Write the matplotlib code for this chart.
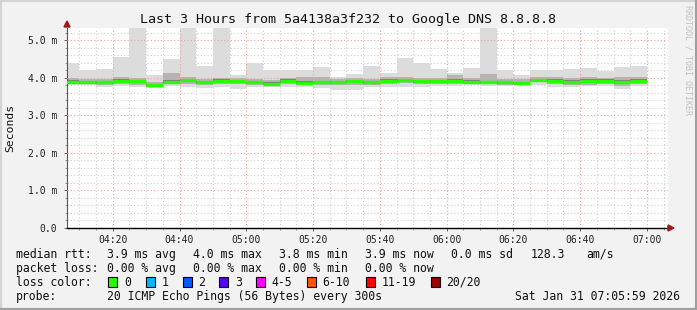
import numpy as np
import matplotlib
matplotlib.use("Agg")
import matplotlib.pyplot as plt
from matplotlib.patches import Rectangle, Polygon
from matplotlib.ticker import FixedLocator, FuncFormatter

plt.rcParams['font.family'] = ['DejaVu Sans Mono', 'DejaVu Sans']

# 5 minute bins, 04:05 .. 06:55 (values in ms)
bin_times = ["%02d:%02d" % divmod(m, 60) for m in range(245, 420, 5)]

smoke_max = [4.39, 4.21, 4.24, 4.57, 5.60, 4.07, 4.51, 5.60, 4.33, 5.60, 4.09, 4.41,
             4.20, 4.20, 4.21, 4.30, 4.02, 4.11, 4.33, 4.14, 4.52, 4.41, 4.24, 4.14,
             4.27, 5.60, 4.22, 4.08, 4.20, 4.22, 4.25, 4.27, 4.19, 4.29, 4.32]
smoke_hi = [4.00, 3.96, 3.96, 4.02, 4.00, 3.90, 4.12, 4.03, 3.97, 4.01, 3.99, 3.98,
            3.95, 4.00, 4.02, 4.03, 3.97, 3.99, 3.98, 4.02, 4.03, 3.99, 4.00, 4.08,
            4.01, 4.10, 3.98, 3.96, 4.03, 4.02, 3.99, 4.02, 4.01, 4.03, 4.02]
dark_hi = [3.94, 3.92, 3.91, 3.97, 3.95, 3.84, 3.95, 3.98, 3.92, 3.96, 3.95, 3.93,
           3.90, 3.96, 3.92, 3.93, 3.92, 3.94, 3.93, 3.97, 3.98, 3.94, 3.95, 3.97,
           3.94, 3.93, 3.93, 3.90, 3.98, 3.96, 3.94, 3.96, 3.96, 3.95, 3.96]
median = [3.90, 3.88, 3.88, 3.93, 3.91, 3.80, 3.89, 3.94, 3.88, 3.92, 3.92, 3.89,
          3.84, 3.92, 3.86, 3.88, 3.88, 3.91, 3.89, 3.93, 3.95, 3.91, 3.91, 3.91,
          3.90, 3.88, 3.89, 3.86, 3.95, 3.93, 3.90, 3.93, 3.92, 3.90, 3.93]
dark_lo = [3.86, 3.85, 3.84, 3.88, 3.86, 3.78, 3.86, 3.89, 3.84, 3.88, 3.88, 3.85,
           3.81, 3.87, 3.83, 3.84, 3.84, 3.86, 3.85, 3.88, 3.90, 3.87, 3.87, 3.87,
           3.86, 3.85, 3.85, 3.83, 3.91, 3.88, 3.85, 3.86, 3.87, 3.84, 3.88]
smoke_lo = [3.84, 3.84, 3.80, 3.85, 3.82, 3.76, 3.83, 3.85, 3.81, 3.84, 3.84, 3.82,
            3.80, 3.83, 3.81, 3.80, 3.80, 3.82, 3.82, 3.84, 3.86, 3.84, 3.84, 3.85,
            3.84, 3.83, 3.82, 3.82, 3.88, 3.84, 3.82, 3.80, 3.84, 3.78, 3.84]
smoke_min = [3.80, 3.82, 3.75, 3.78, 3.75, 3.72, 3.78, 3.75, 3.74, 3.75, 3.70, 3.75,
             3.76, 3.75, 3.75, 3.72, 3.68, 3.68, 3.75, 3.75, 3.75, 3.75, 3.78, 3.78,
             3.80, 3.78, 3.78, 3.80, 3.81, 3.75, 3.75, 3.78, 3.78, 3.70, 3.78]
loss = [0] * 35

loss_labels = ["0", "1", "2", "3", "4-5", "6-10", "11-19", "20/20"]
loss_colors = ["#26ff00", "#00b8ff", "#0059ff", "#5e00ff", "#ff00ff", "#ff5500", "#ff0000", "#a00000"]

x_ticks = ["04:20", "04:40", "05:00", "05:20", "05:40", "06:00", "06:20", "06:40", "07:00"]
y_ticks = [0, 1, 2, 3, 4, 5]


def to_min(s):
    h, m = s.split(":")
    return int(h) * 60 + int(m)


xs = np.array([to_min(t) for t in bin_times])
bg = "#f2f2f2"
W, H = 697, 310

fig = plt.figure(figsize=(W / 100, H / 100), dpi=100, facecolor=bg)
ax = fig.add_axes([67 / W, 1 - 228 / H, 601 / W, 200 / H])
ax.set_facecolor("white")

# smoke layers
def band(lo, hi, color):
    ax.bar(xs, np.array(hi) - np.array(lo), bottom=lo, width=5, align="edge",
           color=color, linewidth=0, zorder=2)

band(smoke_min, smoke_max, "#dcdcdc")
band(smoke_lo, smoke_hi, "#b4b4b4")
band(dark_lo, dark_hi, "#7a7a7a")

# median, coloured by loss
for x0, m, l in zip(xs, median, loss):
    ax.hlines(m, x0, x0 + 5, color=loss_colors[l], linewidth=2.4, zorder=3)

ax.set_xlim(246.3, 426.3)
ax.set_ylim(0, 5.333)

# grid
for m in range(250, 430, 5):
    major = m % 20 == 0
    ax.axvline(m, color="#f0a0a0" if major else "#cfcfcf", linestyle=(0, (1, 2)),
               linewidth=0.8, zorder=1 if not major else 4)
for v in np.arange(0.2, 5.4, 0.2):
    major = abs(v - round(v)) < 1e-6
    ax.axhline(v, color="#f0a0a0" if major else "#cfcfcf", linestyle=(0, (1, 2)),
               linewidth=0.8, zorder=1 if not major else 4)

ax.xaxis.set_major_locator(FixedLocator([to_min(t) for t in x_ticks]))
ax.xaxis.set_minor_locator(FixedLocator(list(range(250, 430, 5))))
ax.xaxis.set_major_formatter(FuncFormatter(lambda v, p: "%02d:%02d" % divmod(int(round(v)), 60)))
ax.yaxis.set_major_locator(FixedLocator(y_ticks))
ax.yaxis.set_minor_locator(FixedLocator(list(np.arange(0.2, 5.4, 0.2))))
ax.yaxis.set_major_formatter(FuncFormatter(lambda v, p: "0.0" if v == 0 else "%.1f m" % v))
ax.tick_params(axis="both", which="major", labelsize=7, length=2, width=0.6,
               color="#555555", labelcolor="#222222")
ax.tick_params(axis="x", which="major", pad=3)
ax.tick_params(axis="y", which="major", pad=5)
ax.tick_params(axis="both", which="minor", length=1.5, width=0.5, color="#777777")

for s in ["top", "right"]:
    ax.spines[s].set_visible(False)
ax.spines["left"].set_color("#555555")
ax.spines["left"].set_linewidth(0.8)
ax.spines["bottom"].set_color("black")
ax.spines["bottom"].set_linewidth(1.0)
ax.spines["left"].set_bounds(0, 5.333)

# arrows
fig.patches.append(Polygon([[64 / W, 1 - 27 / H], [70 / W, 1 - 27 / H], [67 / W, 1 - 21 / H]],
                           closed=True, transform=fig.transFigure, color="#a01818", zorder=10))
fig.patches.append(Polygon([[668 / W, 1 - 225 / H], [668 / W, 1 - 231 / H], [674 / W, 1 - 228 / H]],
                           closed=True, transform=fig.transFigure, color="#a01818", zorder=10))

# title and labels
fig.text(348 / W, 1 - 19 / H, "Last 3 Hours from 5a4138a3f232 to Google DNS 8.8.8.8",
         ha="center", va="center", fontsize=9.6, color="#111111")
fig.text(10 / W, 1 - 128 / H, "Seconds", rotation=90, ha="center", va="center",
         fontsize=8.2, color="#111111")
fig.text(688 / W, 1 - 5 / H, "RRDTOOL / TOBI OETIKER", rotation=270, ha="center", va="top",
         fontsize=6, color="#c0c0c0")

# legend
fs = 8.3
def lt(x, y, s, ha="left"):
    fig.text(x / W, 1 - y / H, s, ha=ha, va="center", fontsize=fs, color="#111111")

y1, y2, y3, y4 = 254.3, 268.3, 282.3, 296.3
lt(16, y1, "median rtt:")
for x, s in zip([107, 193, 279, 365, 451, 531, 586],
                ["3.9 ms avg", "4.0 ms max", "3.8 ms min", "3.9 ms now", "0.0 ms sd", "128.3", "am/s"]):
    lt(x, y1, s)
lt(16, y2, "packet loss:")
for x, s in zip([107, 193, 279, 365], ["0.00 % avg", "0.00 % max", "0.00 % min", "0.00 % now"]):
    lt(x, y2, s)
lt(16, y3, "loss color:")
box_x = [108.3, 145.7, 182.7, 219.3, 256, 306.7, 365.7, 430.7]
for bx, lab, col in zip(box_x, loss_labels, loss_colors):
    fig.patches.append(Rectangle((bx / W, 1 - 287 / H), 9 / W, 10 / H, transform=fig.transFigure,
                                 facecolor=col, edgecolor="black", linewidth=0.8))
    lt(bx + 15.7, y3, lab)
lt(16, y4, "probe:")
lt(107, y4, "20 ICMP Echo Pings (56 Bytes) every 300s")
lt(680, y4, "Sat Jan 31 07:05:59 2026", ha="right")

# frame
fig.patches.append(Rectangle((0, 0), 1, 1, transform=fig.transFigure, fill=False,
                             edgecolor="#d4d4d4", linewidth=3))
fig.patches.append(Rectangle((2.5 / W, 0), (W - 2.5) / W, (H - 2.5) / H, transform=fig.transFigure,
                             fill=False, edgecolor="#a0a0a0", linewidth=0))
fig.lines.append(plt.Line2D([1 - 1 / W, 1 - 1 / W], [0, 1], transform=fig.transFigure,
                            color="#a0a0a0", linewidth=2.2))
fig.lines.append(plt.Line2D([0, 1], [1 / H, 1 / H], transform=fig.transFigure,
                            color="#a0a0a0", linewidth=2.2))

fig.savefig("out.png", dpi=100, facecolor=bg)
